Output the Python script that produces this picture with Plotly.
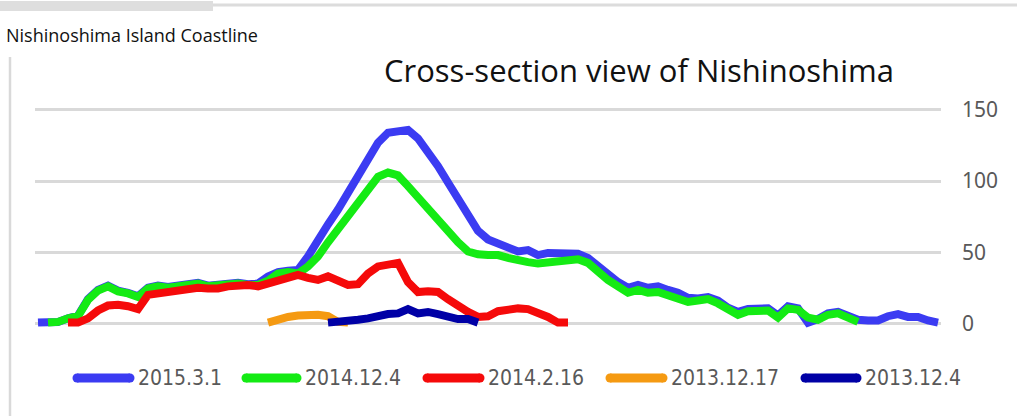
import plotly.graph_objects as go

W, H = 1017, 416
ML, MR, MT, MB = 35, 76, 107, 84

# ---- data ----
section_pos = list(range(91))
series_names = ["2015.3.1", "2014.12.4", "2014.2.16", "2013.12.17", "2013.12.4"]
series_colors = ["#3B3BF2", "#14EB14", "#F50A0A", "#F59A12", "#0000A6"]

h_2015_3_1 = [0.5, 0.5, 1, 3.5, 5.5, 17, 23.5, 26.5, 23, 21.5,
              19, 25, 26.5, 25.5, 26.5, 27.5, 28.5, 26.5, 27.5, 27.5,
              28.5, 27.5, 28, 33, 36, 37, 37.5, 47, 59, 69.5,
              80, 92, 103.5, 115, 127, 134, 135, 136, 130, 121,
              110.5, 99, 87, 75, 65, 59, 56, 53, 50.5, 51.5,
              48, 49.5, 49, 49.5, 49, 46, 40, 34, 29, 25,
              27, 25, 26, 23.5, 21.5, 18, 17.5, 18.5, 16, 11,
              8, 10, 10, 10.5, 5.5, 12, 10.5, 0.5, 3, 7,
              8, 5.5, 2.5, 2, 2, 5, 6.5, 4.5, 4.5, 2,
              0.5]

h_2014_12_4 = [None, 0.5, 1, 3.5, 5, 16.5, 23, 26, 22.5, 21,
               18.5, 24.5, 26, 25, 26, 27, 28, 26, 27, 27,
               28, 27, 27, 30, 35, 36, 35, 40, 47, 57,
               66, 75, 85, 94, 103, 106, 104, 96.5, 88.5, 80,
               71.5, 64, 57, 50.5, 48.5, 48, 48, 46, 44, 43,
               42, 43, 44, 45, 45, 42.5, 36, 30.5, 26, 21.5,
               23.5, 21.5, 22, 20, 18, 15, 16, 17, 14, 9.5,
               6, 8.5, 9, 9, 4, 10.5, 9.5, 4, 2.5, 6,
               7, 4.5, 1, None, None, None, None, None, None, None,
               None]

h_2014_2_16 = [None, None, None, 0.5, 0.5, 3.5, 9, 12.5, 13, 12,
               10, 20, 21, 21.5, 23, 23.5, 25, 24.5, 24.5, 26,
               26.5, 27, 26, 28, 30.5, 32, 34, 32, 30.5, 33,
               30.5, 27, 27.5, 35, 40, 41, 42.5, 29, 22, 22.5,
               22, 17, 12, 8, 4.5, 5, 8.5, 10, 10.5, 10,
               7.5, 4.5, 0.5, 0.5, None, None, None, None, None, None,
               None, None, None, None, None, None, None, None, None, None,
               None, None, None, None, None, None, None, None, None, None,
               None, None, None, None, None, None, None, None, None, None,
               None]

h_2013_12_17 = [None, None, None, None, None, None, None, None, None, None,
                None, None, None, None, None, None, None, None, None, None,
                None, None, None, 0.5, 3, 4.5, 5.5, 6, 6, 5,
                1, 0.5, None, None, None, None, None, None, None, None,
                None, None, None, None, None, None, None, None, None, None,
                None, None, None, None, None, None, None, None, None, None,
                None, None, None, None, None, None, None, None, None, None,
                None, None, None, None, None, None, None, None, None, None,
                None, None, None, None, None, None, None, None, None, None,
                None]

h_2013_12_4 = [None, None, None, None, None, None, None, None, None, None,
               None, None, None, None, None, None, None, None, None, None,
               None, None, None, None, None, None, None, None, None, 0.5,
               0.8, 1.5, 2.5, 3.5, 5.5, 6.5, 7, 10, 7, 8,
               6.5, 4.5, 3, 3, 0.5, None, None, None, None, None,
               None, None, None, None, None, None, None, None, None, None,
               None, None, None, None, None, None, None, None, None, None,
               None, None, None, None, None, None, None, None, None, None,
               None, None, None, None, None, None, None, None, None, None,
               None]

y_ticks = [0, 50, 100, 150]
y_tick_labels = ["0", "50", "100", "150"]

all_series = [h_2015_3_1, h_2014_12_4, h_2014_2_16, h_2013_12_17, h_2013_12_4]

# ---- figure ----
fig = go.Figure()
for name, color, vals in zip(series_names, series_colors, all_series):
    fig.add_trace(go.Scatter(x=section_pos, y=vals, mode="lines", name=name,
                             line=dict(color=color, width=8), showlegend=False,
                             connectgaps=False, hoverinfo="skip"))

pw = W - ML - MR
ph = H - MT - MB


def px2x(px):
    return (px - ML) / pw


def py2y(py):
    return (H - MB - py) / ph


shapes = []
annotations = []

# page decorations
shapes.append(dict(type="rect", xref="paper", yref="paper",
                   x0=px2x(0), x1=px2x(213), y0=py2y(11), y1=py2y(1),
                   fillcolor="#DEDEDE", line=dict(width=0), layer="above"))
shapes.append(dict(type="line", xref="paper", yref="paper",
                   x0=px2x(213), x1=px2x(1017), y0=py2y(5), y1=py2y(5),
                   line=dict(color="#DCDCDC", width=3)))
shapes.append(dict(type="line", xref="paper", yref="paper",
                   x0=px2x(10), x1=px2x(10), y0=py2y(57), y1=py2y(416),
                   line=dict(color="#D9D9D9", width=2.5)))

# custom legend
legend_samples = [(73, 134), (242, 301), (423, 484), (606, 667), (801, 861)]
legend_y = 378
for (x0, x1), name, color in zip(legend_samples, series_names, series_colors):
    shapes.append(dict(type="line", xref="paper", yref="paper",
                       x0=px2x(x0 + 4), x1=px2x(x1 - 4), y0=py2y(legend_y), y1=py2y(legend_y),
                       line=dict(color=color, width=9)))
    for cx in (x0 + 4, x1 - 4):
        shapes.append(dict(type="circle", xref="paper", yref="paper",
                           x0=px2x(cx - 4.5), x1=px2x(cx + 4.5),
                           y0=py2y(legend_y + 4.5), y1=py2y(legend_y - 4.5),
                           fillcolor=color, line=dict(width=0)))
    annotations.append(dict(xref="paper", yref="paper", x=px2x(x1 + 2), y=py2y(legend_y),
                            text=name, showarrow=False, xanchor="left", yanchor="middle",
                            font=dict(family="DejaVu Sans Condensed, sans-serif",
                                      size=21, color="#595959")))

# texts
annotations.append(dict(xref="paper", yref="paper", x=px2x(4), y=py2y(35),
                        text="Nishinoshima Island Coastline", showarrow=False,
                        xanchor="left", yanchor="middle",
                        font=dict(family="Open Sans", size=18, color="#111111")))
annotations.append(dict(xref="paper", yref="paper", x=px2x(639), y=py2y(70),
                        text="Cross-section view of Nishinoshima", showarrow=False,
                        xanchor="center", yanchor="middle",
                        font=dict(family="Open Sans", size=31, color="#111111")))

fig.update_layout(
    width=W, height=H,
    margin=dict(l=ML, r=MR, t=MT, b=MB, autoexpand=False),
    paper_bgcolor="white", plot_bgcolor="white",
    shapes=shapes, annotations=annotations,
    showlegend=False,
    xaxis=dict(range=[-0.3, 90.3], showgrid=False, zeroline=False,
               showticklabels=False, ticks="", showline=False),
    yaxis=dict(range=[-6.1, 152.1], side="right", tickvals=y_ticks, ticktext=y_tick_labels,
               showgrid=True, gridcolor="#D9D9D9", gridwidth=3, zeroline=False,
               showline=False, ticks="", ticklabelstandoff=20,
               tickfont=dict(family="Noto Sans", size=21, color="#595959")),
)

fig.write_html("out.html", config={"displayModeBar": False},
               post_script="document.body.style.margin='0';document.body.style.overflow='hidden';")
